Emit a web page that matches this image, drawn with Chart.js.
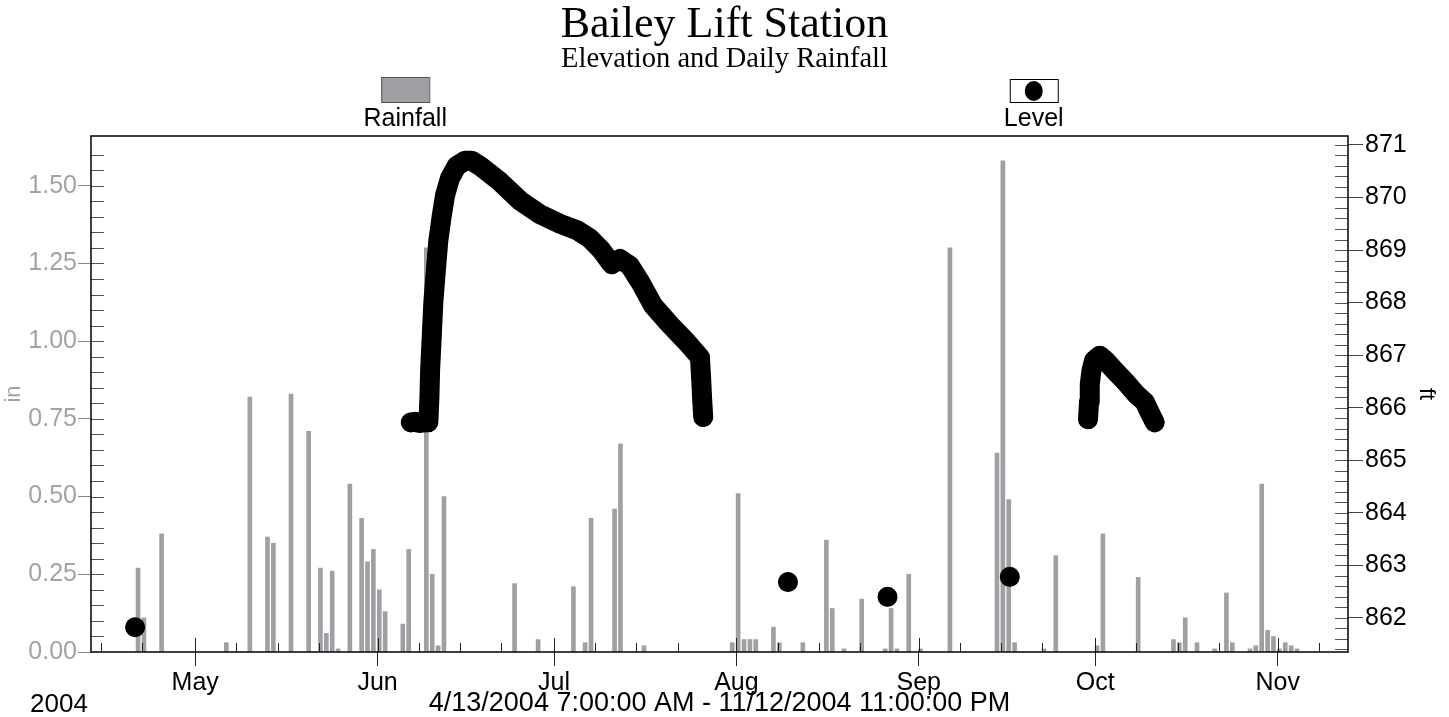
<!DOCTYPE html>
<html><head><meta charset="utf-8">
<script src="https://cdn.jsdelivr.net/npm/chart.js@4.4.1/dist/chart.umd.min.js"></script>
<style>html,body{margin:0;padding:0;background:#fff;}canvas{display:block;}</style>
</head><body>
<canvas id="c" width="1449" height="717" style="width:1449px;height:717px"></canvas>
<script>
// ---- data ----
const rangeStart = "4/13 07:00";
const rangeEnd = "11/12 23:00";
const monthStarts = ["5/1","6/1","7/1","8/1","9/1","10/1","11/1"];
const monthLabels = ["May","Jun","Jul","Aug","Sep","Oct","Nov"];
const rainTicks = [0, 0.25, 0.5, 0.75, 1.0, 1.25, 1.5];
const levelTicks = [862, 863, 864, 865, 866, 867, 868, 869, 870, 871];

const rainDates = ["4/21","4/22","4/25","5/6","5/10","5/13","5/14","5/17","5/20","5/22","5/23","5/24","5/25","5/27","5/29","5/30","5/31",
  "6/1","6/2","6/5","6/6","6/9","6/10","6/11","6/12","6/24","6/28",
  "7/4","7/6","7/7","7/11","7/12","7/16","7/31",
  "8/1","8/2","8/3","8/4","8/7","8/8","8/12","8/16","8/17","8/19","8/22","8/26","8/27","8/28","8/30",
  "9/1","9/6","9/14","9/15","9/16","9/17","9/22","9/24",
  "10/1","10/2","10/8","10/14","10/15","10/16","10/18","10/21","10/23","10/24","10/27","10/28","10/29","10/30","10/31",
  "11/1","11/2","11/3","11/4"];
const rainInches = [0.27,0.11,0.38,0.03,0.82,0.37,0.35,0.83,0.71,0.27,0.06,0.26,0.01,0.54,0.43,0.29,0.33,
  0.20,0.13,0.09,0.33,1.30,0.25,0.02,0.50,0.22,0.04,
  0.21,0.03,0.43,0.46,0.67,0.02,0.03,
  0.51,0.04,0.04,0.04,0.08,0.03,0.03,0.36,0.14,0.01,0.17,0.01,0.14,0.01,0.25,
  0.01,1.30,0.64,1.58,0.49,0.03,0.01,0.31,
  0.02,0.38,0.24,0.04,0.03,0.11,0.03,0.01,0.19,0.03,0.01,0.02,0.54,0.07,0.05,
  0.01,0.03,0.02,0.01];

const levelTimes = ["4/20 19:00","5/15 00:00",
  "6/6 15:30","6/7 09:00","6/8 05:30","6/9 02:00","6/9 15:20","6/9 19:30","6/9 22:20","6/10 05:00","6/10 11:40","6/10 22:40",
  "6/11 08:10","6/11 21:50","6/12 11:20","6/13 07:40","6/14 11:00","6/15 20:50","6/17 00:15","6/18 10:00","6/21 19:40","6/25 05:15",
  "6/28 14:40","7/2 00:15","7/4 20:25","7/7 02:40","7/9 02:25","7/10 19:00","7/12 05:00","7/13 21:40","7/15 14:25","7/17 20:40",
  "7/20 16:50","7/23 13:00","7/25 19:10","7/26 00:00","7/26 04:00","7/26 08:40","8/1 00:00",
  "8/9 18:15","8/20 00:00",
  "8/26 16:20","9/5 00:00",
  "9/16 11:15","9/25 00:00",
  "9/29 18:30","9/29 22:30","9/30 01:30","9/30 08:15","9/30 19:00","10/1 18:00","10/2 21:20","10/4 14:10","10/6 07:00",
  "10/7 23:45","10/9 09:40","10/10 06:00","10/11 02:20"];
const levelFeet = [861.82,null,
  865.72,865.73,865.71,865.72,865.72,866.18,866.70,867.35,868.01,868.66,
  869.19,869.65,870.04,870.37,870.60,870.70,870.70,870.60,870.30,869.94,
  869.68,869.50,869.38,869.22,868.99,868.73,868.83,868.70,868.40,867.94,
  867.58,867.25,866.96,866.57,866.18,865.82,null,
  862.68,null,
  862.40,null,
  862.78,null,
  865.78,866.11,866.44,866.70,866.90,866.99,866.88,866.67,866.47,
  866.25,866.11,865.91,865.72];

// ---- helpers ----
function dayNum(s){
  const parts = s.split(" ");
  const md = parts[0].split("/").map(Number);
  let h = 0, mi = 0;
  if (parts[1]) { const t = parts[1].split(":").map(Number); h = t[0]; mi = t[1]; }
  return (Date.UTC(2004, md[0]-1, md[1], h, mi) - Date.UTC(2004, 4, 1)) / 86400000;
}
const SANS = '"Liberation Sans", Arial, sans-serif';
const SERIF = '"Liberation Serif", "Times New Roman", serif';
const GRAYTXT = '#a3a3a3';
const BARGRAY = '#a0a0a4';

const rainData = rainDates.map((d, i) => ({x: dayNum(d + " 07:00"), y: rainInches[i]}));
const levelData = levelTimes.map((t, i) => ({x: dayNum(t), y: levelFeet[i]}));

const decor = {
  id: 'decor',
  afterDatasetsDraw(chart) {
    const {ctx, chartArea: a, scales} = chart;
    const xs = scales.x, ys = scales.y, y1 = scales.y1;
    ctx.save();
    ctx.lineWidth = 1;
    ctx.strokeStyle = '#222';
    for (let m = 4; m <= 11; m++) {
      [1, 8, 15, 22].forEach(d => {
        const v = dayNum(m + "/" + d);
        if (v < xs.min || v > xs.max) return;
        const px = Math.round(xs.getPixelForValue(v)) + 0.5;
        const len = d === 1 ? 14 : 9;
        ctx.beginPath(); ctx.moveTo(px, a.bottom); ctx.lineTo(px, a.bottom - len); ctx.stroke();
      });
    }
    ctx.strokeStyle = '#555';
    for (let k = 1; k <= 32; k++) {
      const py = Math.round(ys.getPixelForValue(k * 0.05)) + 0.5;
      ctx.beginPath(); ctx.moveTo(a.left, py); ctx.lineTo(a.left + 13, py); ctx.stroke();
    }
    for (let k = -3; k <= 45; k++) {
      const v = 862 + k * 0.2;
      if (v < y1.min || v > y1.max) continue;
      const py = Math.round(y1.getPixelForValue(v)) + 0.5;
      ctx.beginPath(); ctx.moveTo(a.right, py); ctx.lineTo(a.right - 13, py); ctx.stroke();
    }
    ctx.strokeStyle = '#000';
    ctx.lineWidth = 1.5;
    ctx.strokeRect(a.left, a.top, a.right - a.left, a.bottom - a.top);
    ctx.restore();
  },
  afterDraw(chart) {
    const {ctx, chartArea: a} = chart;
    const w = a.right - a.left;
    const cxR = a.left + w * 0.25, cxL = a.left + w * 0.75;
    ctx.save();
    ctx.fillStyle = BARGRAY;
    ctx.fillRect(cxR - 24, 77, 48, 25);
    ctx.strokeStyle = '#555'; ctx.lineWidth = 1;
    ctx.strokeRect(cxR - 24 + 0.5, 77.5, 48, 25);
    ctx.fillStyle = '#fff';
    ctx.fillRect(cxL - 24, 79, 48, 23);
    ctx.strokeStyle = '#000';
    ctx.strokeRect(cxL - 24 + 0.5, 79.5, 48, 23);
    ctx.fillStyle = '#000';
    ctx.beginPath(); ctx.ellipse(cxL, 91, 9, 10, 0, 0, Math.PI * 2); ctx.fill();
    ctx.font = '25px ' + SANS;
    ctx.textAlign = 'center'; ctx.textBaseline = 'alphabetic';
    ctx.fillText(chart.data.datasets[1].label, cxR, 126);
    ctx.fillText(chart.data.datasets[0].label, cxL, 126);
    ctx.textAlign = 'left';
    ctx.font = '26px ' + SANS;
    ctx.fillText('2004', 30, 712);
    ctx.restore();
  }
};

new Chart(document.getElementById('c'), {
  type: 'line',
  data: {
    datasets: [
      {
        type: 'line', label: 'Level', data: levelData, yAxisID: 'y1', xAxisID: 'x',
        borderColor: '#000', backgroundColor: '#000', borderWidth: 20,
        borderCapStyle: 'round', borderJoinStyle: 'round',
        pointRadius: 9.5, pointBackgroundColor: '#000', pointBorderWidth: 0,
        tension: 0, spanGaps: false, fill: false, order: 0
      },
      {
        type: 'bar', label: 'Rainfall', data: rainData, yAxisID: 'y', xAxisID: 'x',
        backgroundColor: BARGRAY, borderWidth: 0, barThickness: 4, order: 1
      }
    ]
  },
  options: {
    responsive: false, animation: false, events: [],
    layout: {padding: 0},
    plugins: {
      legend: {display: false},
      tooltip: {enabled: false},
      title: {display: true, text: 'Bailey Lift Station', color: '#000',
        font: {family: SERIF, size: 44, weight: 'normal', lineHeight: 0.9},
        padding: {top: 6.1, bottom: 0}},
      subtitle: {display: true, text: 'Elevation and Daily Rainfall', color: '#000',
        font: {family: SERIF, size: 28.5, weight: 'normal', lineHeight: 1.0},
        padding: {top: 0, bottom: 61.8}}
    },
    scales: {
      x: {
        type: 'linear', position: 'bottom', offset: false,
        min: dayNum(rangeStart), max: dayNum(rangeEnd),
        afterBuildTicks: s => { s.ticks = monthStarts.map(m => ({value: dayNum(m)})); },
        afterFit: s => { s.height = 65; },
        ticks: {callback: (v, i) => monthLabels[i], color: '#000', font: {family: SANS, size: 25},
          padding: 2, maxRotation: 0, autoSkip: false},
        grid: {drawOnChartArea: false, drawTicks: true, tickLength: 14, color: '#222', offset: false},
        border: {display: false},
        title: {display: true, text: '4/13/2004 7:00:00 AM - 11/12/2004 11:00:00 PM', color: '#000',
          font: {family: SANS, size: 27, lineHeight: 1.0}, padding: {top: 0, bottom: 0}}
      },
      y: {
        type: 'linear', position: 'left', min: 0, max: 1.66,
        afterBuildTicks: s => { s.ticks = rainTicks.map(v => ({value: v})); },
        afterFit: s => { s.width = 91; },
        ticks: {callback: v => Number(v).toFixed(2), color: GRAYTXT, font: {family: SANS, size: 25}, padding: 1},
        grid: {drawOnChartArea: false, drawTicks: true, tickLength: 13, color: '#888'},
        border: {display: false},
        title: {display: true, text: 'in', color: GRAYTXT, font: {family: SANS, size: 22, lineHeight: 1.0},
          padding: {top: 2.7, bottom: 0}}
      },
      y1: {
        type: 'linear', position: 'right', min: 861.35, max: 871.17,
        afterBuildTicks: s => { s.ticks = levelTicks.map(v => ({value: v})); },
        afterFit: s => { s.width = 101; },
        ticks: {callback: v => String(v), color: '#000', font: {family: SANS, size: 25}, padding: 2},
        grid: {drawOnChartArea: false, drawTicks: true, tickLength: 15, color: '#444'},
        border: {display: false},
        title: {display: true, text: 'ft', color: '#000', font: {family: SANS, size: 22, lineHeight: 1.0},
          padding: {top: 12.2, bottom: 0}}
      }
    }
  },
  plugins: [decor]
});
</script>
</body></html>
